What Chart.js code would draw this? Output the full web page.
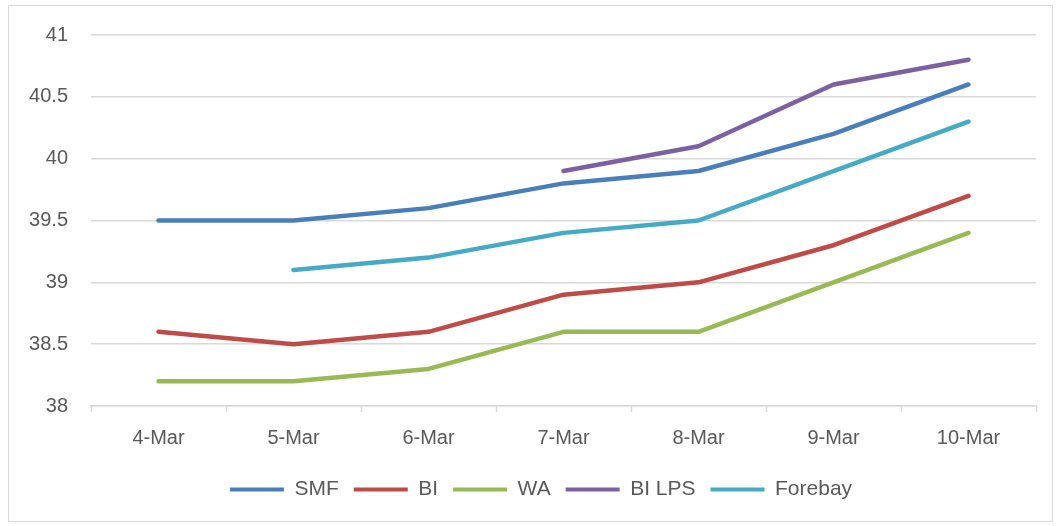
<!DOCTYPE html>
<html>
<head>
<meta charset="utf-8">
<script src="https://cdn.jsdelivr.net/npm/chart.js"></script>
<style>
  body { margin: 0; background: #fff; }
  #frame { position: absolute; left: 8px; top: 5px; width: 1043px; height: 515px; border: 1px solid #d9d9d9; }
  #wrap { position: absolute; left: 0; top: 0; width: 1060px; height: 526px; }
</style>
</head>
<body>
<div id="frame"></div>
<div id="wrap"><canvas id="chart"></canvas></div>
<script>
const days = ['4-Mar', '5-Mar', '6-Mar', '7-Mar', '8-Mar', '9-Mar', '10-Mar'];
const smf = [39.5, 39.5, 39.6, 39.8, 39.9, 40.2, 40.6];
const bi = [38.6, 38.5, 38.6, 38.9, 39.0, 39.3, 39.7];
const wa = [38.2, 38.2, 38.3, 38.6, 38.6, 39.0, 39.4];
const biLps = [null, null, null, 39.9, 40.1, 40.6, 40.8];
const forebay = [null, 39.1, 39.2, 39.4, 39.5, 39.9, 40.3];

const textColor = '#595959';
const gridColor = '#d9d9d9';

function line(label, data, color) {
  return {
    label, data,
    borderColor: color, backgroundColor: color,
    borderWidth: 4.5, pointRadius: 0, tension: 0,
    borderCapStyle: 'round', borderJoinStyle: 'round'
  };
}

new Chart(document.getElementById('chart'), {
  type: 'line',
  data: {
    labels: days,
    datasets: [
      line('SMF', smf, '#4a7ebb'),
      line('BI', bi, '#be4b48'),
      line('WA', wa, '#98b954'),
      line('BI LPS', biLps, '#7d60a0'),
      line('Forebay', forebay, '#46aac5')
    ]
  },
  options: {
    responsive: true,
    maintainAspectRatio: false,
    animation: false,
    layout: { padding: { left: 0, right: 24, top: 35, bottom: 16 } },
    plugins: {
      tooltip: { enabled: false },
      legend: {
        position: 'bottom',
        labels: {
          color: textColor,
          font: { family: 'Liberation Sans', size: 21 },
          boxWidth: 54, boxHeight: 4,
          padding: 15,
          generateLabels(chart) {
            return chart.data.datasets.map((ds, i) => ({
              text: ds.label, fillStyle: ds.borderColor, strokeStyle: ds.borderColor,
              lineWidth: 0, datasetIndex: i, fontColor: textColor
            }));
          }
        }
      }
    },
    scales: {
      x: {
        offset: true,
        grid: { display: false, drawOnChartArea: false, tickLength: 6 },
        border: { color: gridColor, width: 1.5 },
        ticks: { color: textColor, font: { family: 'Liberation Sans', size: 20 }, padding: 14, maxRotation: 0 },
        afterFit(scale) { scale.height = 58; }
      },
      y: {
        min: 38, max: 41,
        grid: { color: gridColor, lineWidth: 1.5, drawTicks: false },
        border: { display: false },
        ticks: {
          stepSize: 0.5, color: textColor, font: { family: 'Liberation Sans', size: 20 }, padding: 23,
          callback: v => String(Number(v))
        },
        afterFit(scale) { scale.width = 91; }
      }
    }
  },
  plugins: [{
    id: 'legendShift',
    afterLayout(chart) {
      // legend sits a bit right of the canvas centre in the original
      chart.legend.left += 23;
      chart.legend.right += 23;
    }
  }, {
    id: 'xTicks',
    afterDraw(chart) {
      const area = chart.chartArea, ctx = chart.ctx;
      ctx.save();
      ctx.strokeStyle = gridColor;
      ctx.lineWidth = 1.5;
      const step = (area.right - area.left) / days.length;
      for (let i = 0; i <= days.length; i++) {
        const px = Math.round(area.left + i * step) + 0.5;
        ctx.beginPath();
        ctx.moveTo(px, area.bottom);
        ctx.lineTo(px, area.bottom + 6);
        ctx.stroke();
      }
      ctx.restore();
    }
  }]
});
</script>
</body>
</html>
